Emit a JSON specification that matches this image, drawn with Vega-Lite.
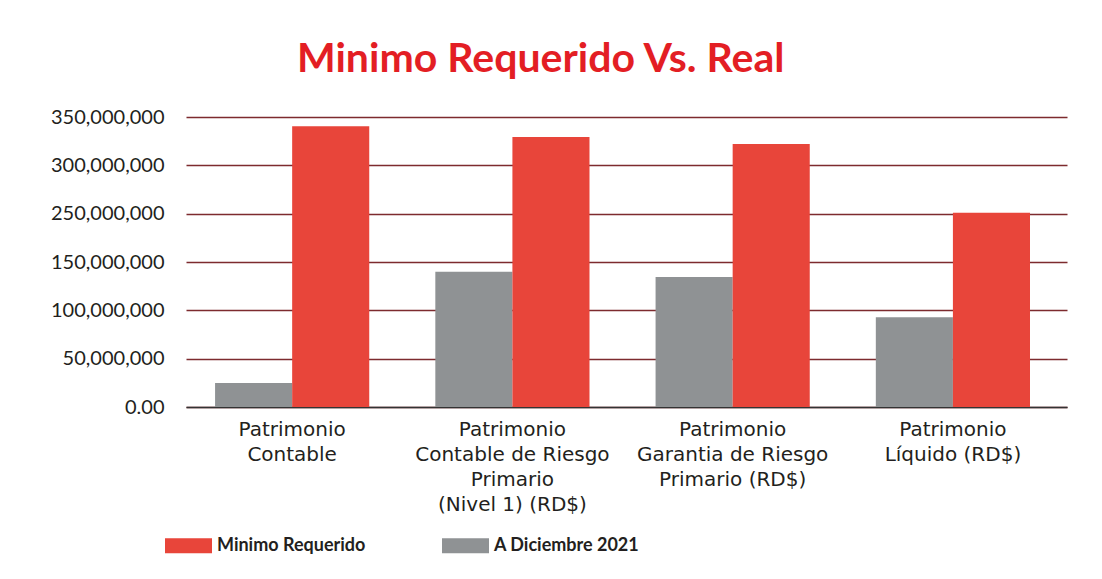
{
  "$schema": "https://vega.github.io/schema/vega-lite/v6.json",
  "autosize": "none",
  "width": 881,
  "height": 290,
  "padding": {"left": 186, "top": 117, "right": 35, "bottom": 172},
  "background": "white",
  "title": {
    "text": "Minimo Requerido Vs. Real",
    "anchor": "start",
    "frame": "group",
    "dx": 111,
    "offset": -6,
    "baseline": "alphabetic",
    "font": "Lato",
    "fontSize": 41,
    "fontWeight": "bold",
    "color": "#E31E24"
  },
  "data": {
    "values": [
      {"categoria": "Patrimonio\nContable", "serie": "A Diciembre 2021", "valor": 24800000},
      {"categoria": "Patrimonio\nContable", "serie": "Minimo Requerido", "valor": 340500000},
      {"categoria": "Patrimonio\nContable de Riesgo\nPrimario\n(Nivel 1) (RD$)", "serie": "A Diciembre 2021", "valor": 140000000},
      {"categoria": "Patrimonio\nContable de Riesgo\nPrimario\n(Nivel 1) (RD$)", "serie": "Minimo Requerido", "valor": 329300000},
      {"categoria": "Patrimonio\nGarantia de Riesgo\nPrimario (RD$)", "serie": "A Diciembre 2021", "valor": 134500000},
      {"categoria": "Patrimonio\nGarantia de Riesgo\nPrimario (RD$)", "serie": "Minimo Requerido", "valor": 322000000},
      {"categoria": "Patrimonio\nLíquido (RD$)", "serie": "A Diciembre 2021", "valor": 92900000},
      {"categoria": "Patrimonio\nLíquido (RD$)", "serie": "Minimo Requerido", "valor": 251000000}
    ]
  },
  "mark": {"type": "bar"},
  "encoding": {
    "x": {
      "field": "categoria",
      "type": "nominal",
      "sort": null,
      "scale": {"paddingInner": 0.3, "paddingOuter": 0.15, "align": 0.44},
      "axis": {
        "title": null,
        "labelAngle": 0,
        "labelExpr": "split(datum.label, '\\n')",
        "labelFont": "DejaVu Sans",
        "labelFontSize": 20,
        "labelLineHeight": 25,
        "labelColor": "#231f20",
        "labelPadding": 12,
        "labelLimit": 300,
        "ticks": false,
        "domainColor": "#333333",
        "domainWidth": 1.5,
        "grid": false
      }
    },
    "xOffset": {
      "field": "serie",
      "type": "nominal",
      "sort": ["A Diciembre 2021", "Minimo Requerido"]
    },
    "y": {
      "field": "valor",
      "type": "quantitative",
      "scale": {
        "domain": [0, 150000000, 250000000, 350000000],
        "range": [290, 145, 96.67, 0],
        "nice": false,
        "zero": false
      },
      "axis": {
        "title": null,
        "values": [0, 50000000, 100000000, 150000000, 250000000, 300000000, 350000000],
        "labelExpr": "datum.value == 0 ? '0.00' : format(datum.value, ',')",
        "labelFont": "Lato",
        "labelFontSize": 20,
        "labelColor": "#231f20",
        "labelPadding": 22,
        "ticks": false,
        "domain": false,
        "grid": true,
        "gridColor": "#7d2b2e",
        "gridWidth": 1.5
      }
    },
    "color": {
      "field": "serie",
      "type": "nominal",
      "scale": {
        "domain": ["Minimo Requerido", "A Diciembre 2021"],
        "range": ["#E8453A", "#8F9294"]
      },
      "legend": {
        "title": null,
        "orient": "none",
        "direction": "horizontal",
        "legendX": -21,
        "legendY": 405,
        "symbolType": "M-1,-0.32h2v0.64h-2z",
        "symbolSize": 2209,
        "symbolStrokeWidth": 0,
        "symbolOpacity": 1,
        "labelFont": "Lato",
        "labelFontSize": 18,
        "labelFontWeight": "bold",
        "labelColor": "#231f20",
        "labelOffset": 5,
        "columnPadding": 76,
        "labelLimit": 300
      }
    }
  },
  "config": {
    "view": {"stroke": null}
  }
}
